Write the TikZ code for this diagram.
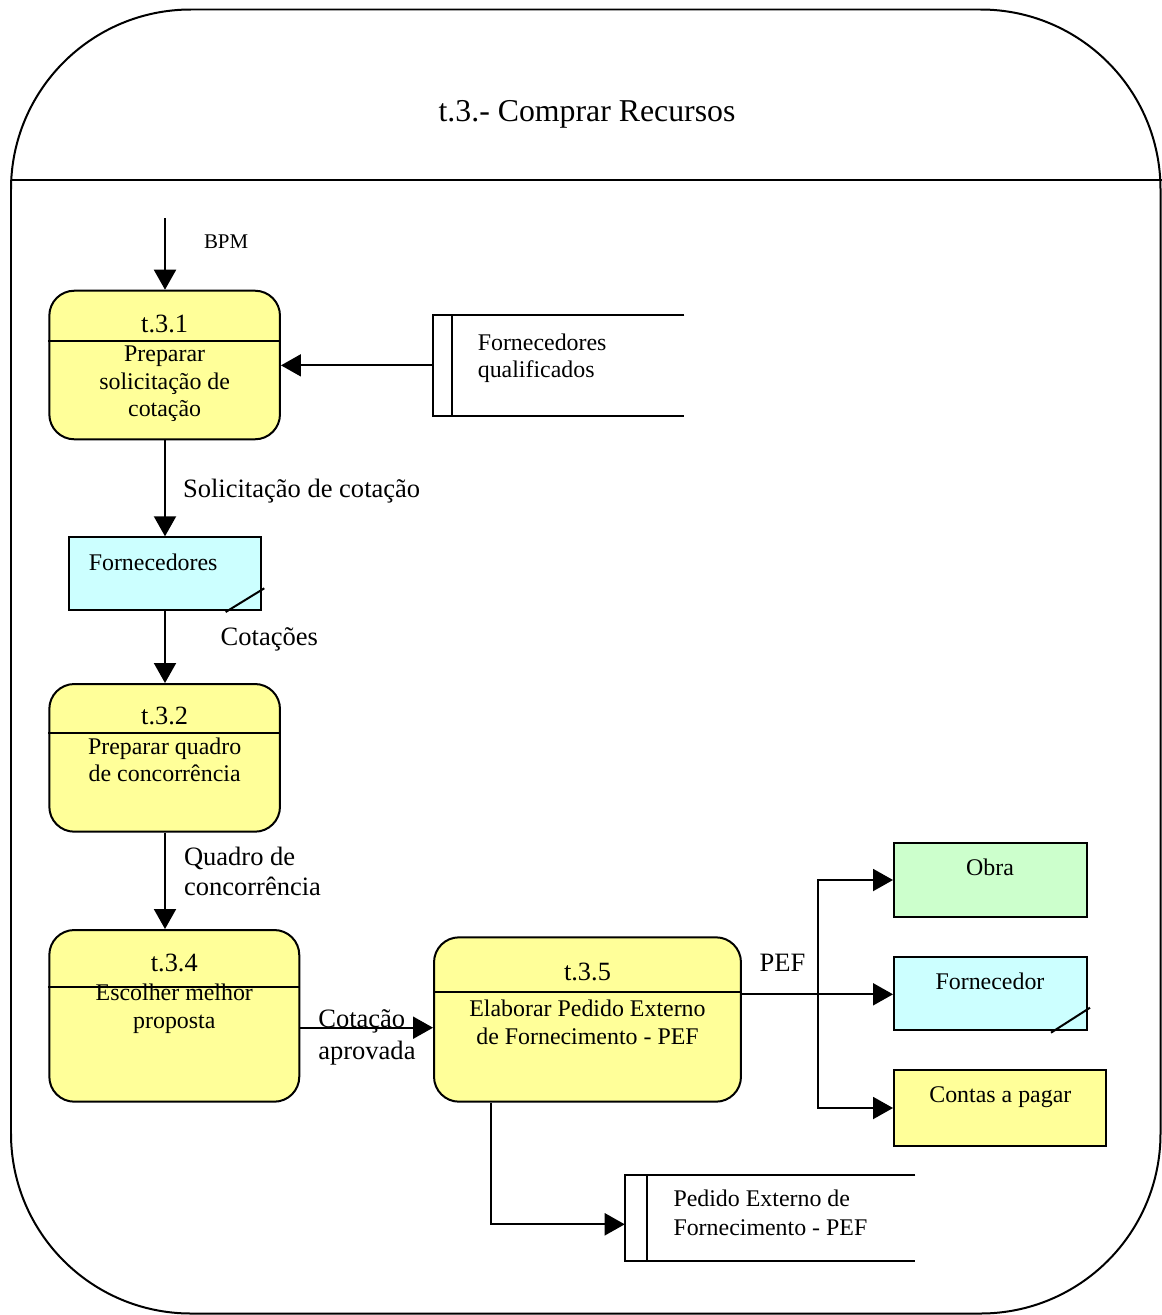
\documentclass[tikz,border=0pt]{standalone}
\usepackage{fontspec}
\setmainfont{Liberation Serif}
\usetikzlibrary{arrows.meta,calc}
\definecolor{procfill}{HTML}{FFFF99}
\definecolor{extcyan}{HTML}{CCFFFF}
\definecolor{extgreen}{HTML}{CCFFCC}
\begin{document}
\begin{tikzpicture}[x=0.02cm,y=-0.02cm,
  line width=0.04cm,
  proc/.style={draw, fill=procfill, rounded corners=0.5cm, inner sep=0pt},
  extbox/.style={draw, inner sep=0pt},
  storebox/.style={inner sep=0pt},
  flow/.style={-{Triangle[length=0.4cm,width=0.44cm]}},
  boxtxt/.style={font=\fontsize{13.6}{15.9}\selectfont, inner sep=0pt, anchor=base},
  boxtxtl/.style={boxtxt, anchor=base west, xshift=-0.03cm},
  numtxt/.style={font=\fontsize{15}{17}\selectfont, inner sep=0pt, anchor=base},
  lbl/.style={font=\fontsize{15.1}{17}\selectfont, inner sep=0pt, anchor=base west, xshift=-0.04cm},
]
\useasboundingbox (0,0) rectangle (1162,1315);

% outer frame with header band
\draw[rounded corners=3.6cm] (11,9.5) rectangle (1160.5,1313.5);
\draw (11,180) -- (1162,180);
\node[font=\fontsize{18.1}{20}\selectfont, inner sep=0pt, anchor=base] (title) at (587,121.7) {t.3.- Comprar Recursos};

% processes
\node[proc, minimum width=4.614cm, minimum height=2.972cm] (p1) at (164.65,365) {};
\draw (p1.west |- 0,340.7) -- (p1.east |- 0,340.7);
\node[numtxt] (p1n) at (164.65,332.7) {t.3.1};
\node[boxtxt] (p1a) at (164.65,361.7) {Preparar};
\node[boxtxt] (p1b) at (164.65,389) {solicitação de};
\node[boxtxt] (p1c) at (164.65,416.3) {cotação};

\node[proc, minimum width=4.614cm, minimum height=2.954cm] (p2) at (164.65,757.85) {};
\draw (p2.west |- 0,733.3) -- (p2.east |- 0,733.3);
\node[numtxt] (p2n) at (164.65,724.3) {t.3.2};
\node[boxtxt] (p2a) at (164.65,754) {Preparar quadro};
\node[boxtxt] (p2b) at (164.65,781.7) {de concorrência};

\node[proc, minimum width=5cm, minimum height=3.434cm] (p4) at (174.3,1015.85) {};
\draw (p4.west |- 0,987.3) -- (p4.east |- 0,987.3);
\node[numtxt] (p4n) at (174.3,971.7) {t.3.4};
\node[boxtxt] (p4a) at (174.3,1000.7) {Escolher melhor};
\node[boxtxt] (p4b) at (174.3,1028.3) {proposta};

\node[proc, minimum width=6.14cm, minimum height=3.288cm] (p5) at (587.5,1019.5) {};
\draw (p5.west |- 0,992.3) -- (p5.east |- 0,992.3);
\node[numtxt] (p5n) at (587.5,980) {t.3.5};
\node[boxtxt] (p5a) at (587.5,1016.7) {Elaborar Pedido Externo};
\node[boxtxt] (p5b) at (587.5,1044) {de Fornecimento - PEF};

% external entities
\node[extbox, fill=extcyan, minimum width=3.828cm, minimum height=1.454cm] (f1) at (165,573.65) {};
\draw ($(f1.south east)+(-36,1)$) -- ($(f1.south east)+(2.6,-22.7)$);
\node[boxtxtl] (f1t) at (89.3,570) {Fornecedores};

\node[extbox, fill=extgreen, minimum width=3.854cm, minimum height=1.468cm] (obra) at (990.35,880) {};
\node[boxtxt] (obrat) at (990,875.7) {Obra};

\node[extbox, fill=extcyan, minimum width=3.854cm, minimum height=1.472cm] (f2) at (990.35,993.5) {};
\draw ($(f2.south east)+(-36.7,1.4)$) -- ($(f2.south east)+(2.3,-23.6)$);
\node[boxtxt] (f2t) at (990,989) {Fornecedor};

\node[extbox, fill=procfill, minimum width=4.24cm, minimum height=1.52cm] (contas) at (1000,1108) {};
\node[boxtxt] (contast) at (1000.3,1102.7) {Contas a pagar};

% data stores
\node[storebox, minimum width=4.986cm, minimum height=1.986cm] (fq) at (558.65,365.35) {};
\draw (fq.north east) -- (fq.north west) -- (fq.south west) -- (fq.south east);
\draw ($(fq.north west)+(18.7,0)$) -- ($(fq.south west)+(18.7,0)$);
\node[boxtxtl] (fqa) at (478.3,350) {Fornecedores};
\node[boxtxtl] (fqb) at (478.3,377.3) {qualificados};

\node[storebox, minimum width=5.772cm, minimum height=1.686cm] (pef) at (770,1217.85) {};
\draw (pef.north east) -- (pef.north west) -- (pef.south west) -- (pef.south east);
\draw ($(pef.north west)+(22,0)$) -- ($(pef.south west)+(22,0)$);
\node[boxtxtl] (pefa) at (674,1206.7) {Pedido Externo de};
\node[boxtxtl] (pefb) at (674,1235) {Fornecimento - PEF};

% flows
\coordinate (bpmin) at (165,218);
\draw[flow] (bpmin) -- (bpmin |- p1.north);
\node[font=\fontsize{11.9}{14}\selectfont, inner sep=0pt, anchor=base west] (bpm) at (203,248.3) {BPM};

\draw[flow] (fq.west) -- (fq.west -| p1.east);

\draw[flow] (bpmin |- p1.south) -- (bpmin |- f1.north);
\node[lbl] (l1) at (184,497) {Solicitação de cotação};

\draw[flow] (bpmin |- f1.south) -- (bpmin |- p2.north);
\node[lbl] (l2) at (221.7,645) {Cotações};

\draw[flow] (bpmin |- p2.south) -- (bpmin |- p4.north);
\node[lbl] (l3a) at (185,865.7) {Quadro de};
\node[lbl] (l3b) at (185,895) {concorrência};

\coordinate (cy) at (0,1027.7);
\draw[flow] (p4.east |- cy) -- (p5.west |- cy);
\node[lbl] (l4a) at (319.3,1027.7) {Cotação};
\node[lbl] (l4b) at (319.3,1059) {aprovada};

\coordinate (br) at (817.7,994.3);
\draw[flow] (p5.east |- br) -- (f2.west |- br);
\draw[flow] (br) |- (obra.west);
\draw[flow] (br) |- (contas.west);
\node[lbl] (l5) at (760.7,971.7) {PEF};

\coordinate (pd) at (491,1224.3);
\draw[flow] (pd |- p5.south) -- (pd) -- (pd -| pef.west);
\end{tikzpicture}
\end{document}
